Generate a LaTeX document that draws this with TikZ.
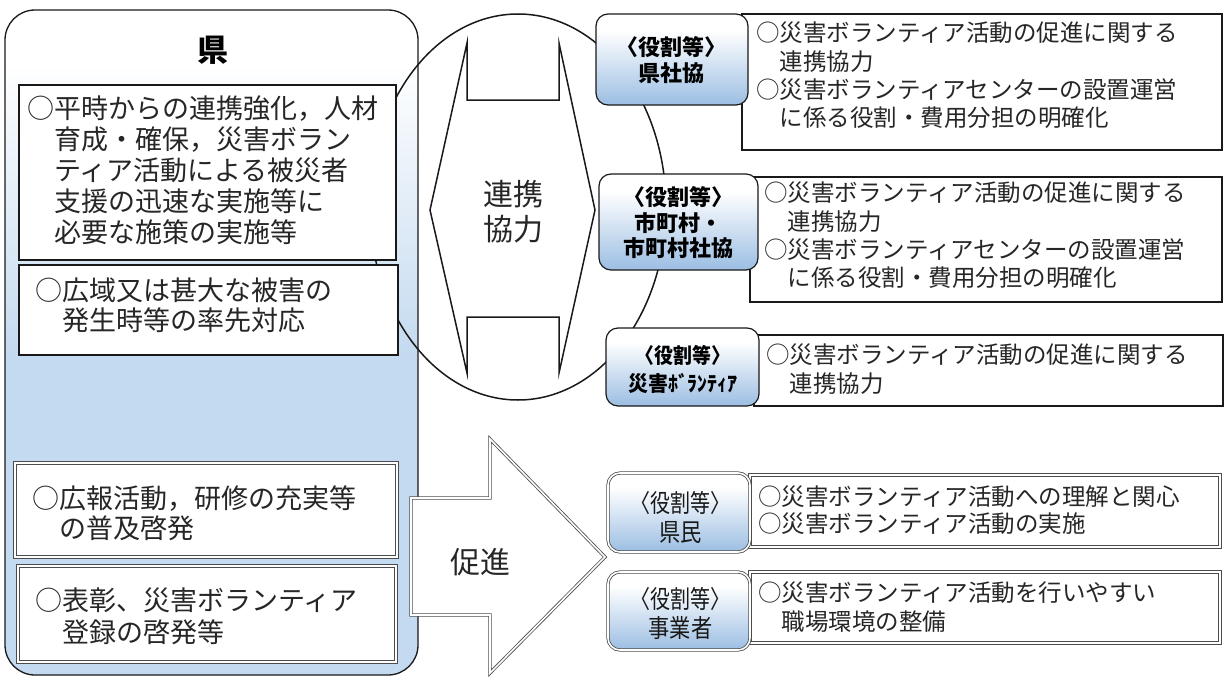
\documentclass[tikz,border=0pt]{standalone}
\usepackage{graphicx}
\usepackage{fontspec}
\setmainfont{Noto Sans CJK JP}
\usetikzlibrary{shapes.geometric}
\definecolor{kenblue}{RGB}{196,218,240}
\definecolor{roleblue}{RGB}{160,193,228}
\definecolor{lineblk}{RGB}{25,25,25}
\pgfdeclareverticalshading{kenshade}{100bp}{color(0bp)=(kenblue); color(49bp)=(kenblue); color(71bp)=(white); color(100bp)=(white)}
\pgfdeclareverticalshading{roleshade}{100bp}{color(0bp)=(roleblue); color(27bp)=(roleblue); color(66bp)=(white); color(100bp)=(white)}
\begin{document}
\begin{tikzpicture}[x=1pt,y=-1pt,
  kenbox/.style={draw=lineblk, line width=1.3pt, rounded corners=30pt, shading=kenshade, inner sep=0pt},
  txtbox/.style={draw=lineblk, line width=1.2pt, fill=white, inner sep=0pt},
  dblbox/.style={draw=black!70, line width=0.8pt, double=white, double distance=1.6pt, fill=white, inner sep=0pt},
  rolebox/.style={draw=lineblk, line width=1.2pt, rounded corners=12pt, shading=roleshade, inner sep=0pt},
  roledbl/.style={draw=black!70, line width=0.8pt, double=white, double distance=1.6pt, rounded corners=12pt, shading=roleshade, inner sep=0pt},
  arrowshape/.style={draw=lineblk, line width=1.5pt, fill=white},
  dblarrow/.style={draw=black!70, line width=0.8pt, double=white, double distance=1.6pt, fill=white},
  lefttxt/.style={inner sep=0pt, align=left, anchor=west, text=black!85},
  righttxt/.style={inner sep=0pt, align=left, anchor=west, text=black!85, font=\fontsize{23.5}{28.3}\selectfont},
  roletxt/.style={inner sep=0pt, align=center, font=\bfseries\fontsize{22}{25.5}\selectfont},
  roletxtr/.style={inner sep=0pt, align=center, text=black!90, font=\fontsize{25}{28.5}\selectfont},
  bigtxt/.style={inner sep=0pt, align=center, text=black!85, font=\fontsize{30}{35}\selectfont}
]
\useasboundingbox (0,0) rectangle (1226,677);
\path[fill=white] (0,0) rectangle (1226,677);

% prefecture column
\node[kenbox, minimum width=413, minimum height=665] (ken) at (211.5,342.5) {};
\node[inner sep=0pt, font=\bfseries\fontsize{31}{31}\selectfont] (kent) at (213,50) {県};

% cooperation ellipse
\node[ellipse, draw=lineblk, line width=1.5pt, minimum width=296, minimum height=386, inner sep=0pt] (ell) at (518,207) {};

% left boxes
\node[txtbox, minimum width=377, minimum height=175] (k1) at (207.5,172.5) {};
\node[lefttxt, font=\fontsize{27}{31}\selectfont] (k1t) at (27,170) {○平時からの連携強化，人材\\\hspace*{1em}育成・確保，災害ボラン\\\hspace*{1em}ティア活動による被災者\\\hspace*{1em}支援の迅速な実施等に\\\hspace*{1em}必要な施策の実施等};

\node[txtbox, minimum width=379, minimum height=90] (k2) at (208.5,310) {};
\node[lefttxt, font=\fontsize{27}{30}\selectfont] (k2t) at (35,305) {○広域又は甚大な被害の\\\hspace*{1em}発生時等の率先対応};

\node[dblbox, minimum width=382, minimum height=94] (k3) at (206,510) {};
\node[lefttxt, font=\fontsize{27}{30}\selectfont] (k3t) at (32,513) {○広報活動，研修の充実等\\\hspace*{1em}の普及啓発};

\node[dblbox, minimum width=378, minimum height=96] (k4) at (207,614) {};
\node[lefttxt, font=\fontsize{27}{32}\selectfont] (k4t) at (35,616) {○表彰、災害ボランティア\\\hspace*{1em}登録の啓発等};

% double-headed cooperation arrow
\draw[arrowshape] (467,43) -- (467,100) -- (559,100) -- (559,43) -- (595,210) -- (559,373) -- (559,317) -- (467,317) -- (467,373) -- (430,210) -- cycle;
\node[bigtxt] (renkei) at (513,212) {連携\\協力};

% promotion arrow
\draw[dblarrow] (411,498) -- (490,498) -- (490,439) -- (605,557) -- (490,673) -- (490,615) -- (411,615) -- cycle;
\node[bigtxt] (sokushin) at (480,562) {促進};

% right text boxes
\node[txtbox, minimum width=480, minimum height=136] (t1) at (982,82) {};
\node[righttxt] (t1t) at (756,75.5) {○災害ボランティア活動の促進に関する\\\hspace*{1em}連携協力\\○災害ボランティアセンターの設置運営\\\hspace*{1em}に係る役割・費用分担の明確化};

\node[txtbox, minimum width=472, minimum height=125] (t2) at (986,239.5) {};
\node[righttxt] (t2t) at (764,235.5) {○災害ボランティア活動の促進に関する\\\hspace*{1em}連携協力\\○災害ボランティアセンターの設置運営\\\hspace*{1em}に係る役割・費用分担の明確化};

\node[txtbox, minimum width=469, minimum height=71] (t3) at (988.5,370.5) {};
\node[righttxt] (t3t) at (766,369) {○災害ボランティア活動の促進に関する\\\hspace*{1em}連携協力};

\node[dblbox, minimum width=470, minimum height=72] (t4) at (985,511) {};
\node[righttxt, font=\fontsize{23.5}{26.5}\selectfont] (t4t) at (758,510) {○災害ボランティア活動への理解と関心\\○災害ボランティア活動の実施};

\node[dblbox, minimum width=470, minimum height=71] (t5) at (985,607.5) {};
\node[righttxt, font=\fontsize{23.5}{29}\selectfont] (t5t) at (758,607.5) {○災害ボランティア活動を行いやすい\\\hspace*{1em}職場環境の整備};

% role boxes
\node[rolebox, minimum width=152, minimum height=91] (r1) at (672,59.5) {};
\node[roletxt] (r1t) at (671,60) {〈役割等〉\\県社協};

\node[rolebox, minimum width=159, minimum height=96] (r2) at (678.5,222) {};
\node[roletxt] (r2t) at (678,223) {〈役割等〉\\市町村・\\市町村社協};

\node[rolebox, minimum width=153, minimum height=78] (r3) at (682.5,367) {};
\node[roletxt, font=\bfseries\fontsize{21}{28}\selectfont] (r3t) at (683,369) {\scalebox{0.9}[1]{〈役割等〉}\\\scalebox{0.95}[1]{災害ﾎﾞﾗﾝﾃｨｱ}};

\node[roledbl, minimum width=142, minimum height=79] (r4) at (679,512.5) {};
\node[roletxtr] (r4t) at (680.5,517.5) {\scalebox{0.8}[1]{〈役割等〉}\\\scalebox{0.85}[1]{県民}};

\node[roledbl, minimum width=142, minimum height=78] (r5) at (679,611) {};
\node[roletxtr] (r5t) at (680.5,613.5) {\scalebox{0.8}[1]{〈役割等〉}\\\scalebox{0.85}[1]{事業者}};
\end{tikzpicture}
\end{document}
